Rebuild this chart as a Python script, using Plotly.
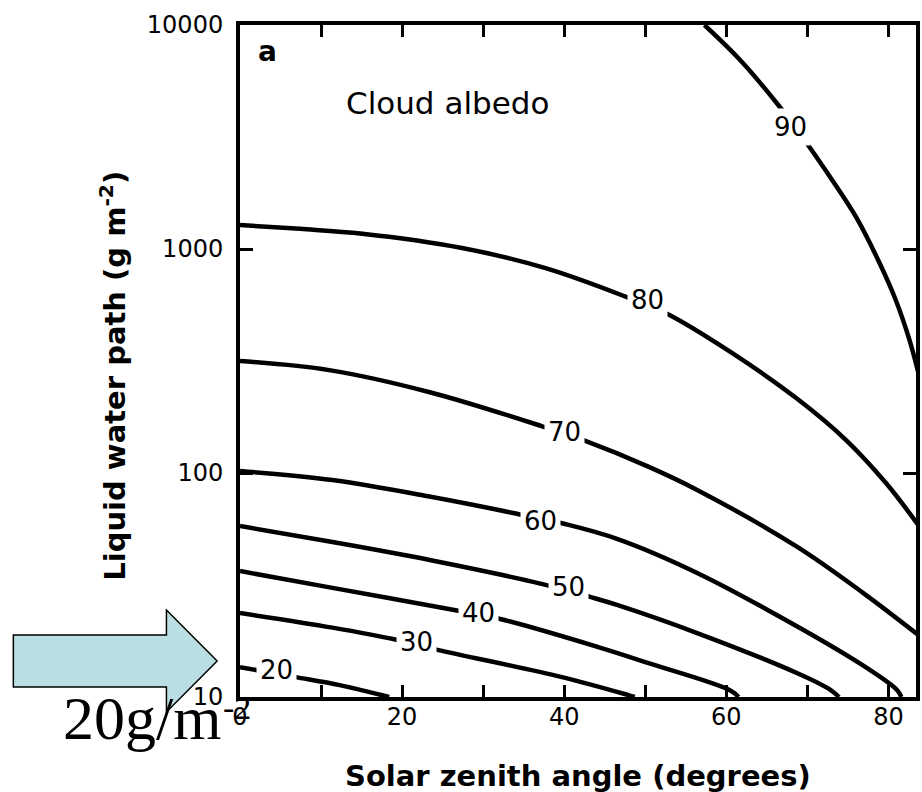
import numpy as np
import plotly.graph_objects as go

# ---- data (solar zenith angle in degrees, LWP in g m-2) ----
sza_20 = [0, 6.7, 12.3, 18.4]
lwp_20 = [13.6, 12.3, 11.3, 10.0]

sza_30 = [0, 11.4, 19.3, 24.5, 39.6, 47.9, 48.7]
lwp_30 = [23.7, 20.4, 18.0, 16.2, 12.3, 10.2, 10.0]

sza_40 = [0, 11.4, 26.6, 32.1, 44.2, 50.3, 60.5, 61.5]
lwp_40 = [36.5, 30.7, 24.4, 22.3, 16.7, 14.2, 10.7, 10.0]

sza_50 = [0, 11.4, 23.7, 37.2, 43.3, 46.6, 56.4, 68.7, 72.8, 73.9]
lwp_50 = [58.0, 49.2, 40.7, 32.0, 27.9, 25.7, 19.3, 12.8, 10.8, 10.0]

sza_60 = [0, 11.4, 23.7, 33.7, 40.1, 46.6, 56.4, 68.7, 76.9, 81.0, 81.6]
lwp_60 = [102, 93, 78.1, 66.3, 59.2, 50.7, 35.8, 20.7, 13.8, 10.8, 10.0]

sza_70 = [0, 11.0, 23.3, 37.2, 42.6, 50.3, 56.4, 68.7, 76.9, 83.7]
lwp_70 = [316, 288, 230, 162, 139, 107, 84, 46.9, 29.1, 18.9]

sza_80 = [0, 7.4, 15.1, 27.4, 37.7, 47.5, 52.8, 60.5, 68.7, 74.8, 79.8, 83.7]
lwp_80 = [1280, 1230, 1170, 1010, 821, 614, 511, 347, 215, 140, 89.3, 58.4]

sza_90 = [57.3, 61.7, 66.6, 69.9, 72.8, 76.0, 78.9, 80.9, 82.6, 83.7]
lwp_90 = [10000, 6980, 4305, 2973, 2096, 1390, 866, 592, 392, 279]

label_text = ["20", "30", "40", "50", "60", "70", "80", "90"]
label_sza = [4.5, 21.8, 29.4, 40.5, 37.1, 40.0, 50.3, 67.9]
label_lwp = [13.2, 17.6, 23.7, 31.0, 61.0, 152, 590, 3505]

x_tickvals = [0, 20, 40, 60, 80]
x_ticktext = ["0", "20", "40", "60", "80"]
y_tickvals = [10, 100, 1000, 10000]
y_ticktext = ["10", "100", "1000", "10000"]

# ---- figure ----
fig = go.Figure()
contours = [(sza_20, lwp_20), (sza_30, lwp_30), (sza_40, lwp_40), (sza_50, lwp_50),
            (sza_60, lwp_60), (sza_70, lwp_70), (sza_80, lwp_80), (sza_90, lwp_90)]
for xs, ys in contours:
    fig.add_trace(go.Scatter(x=xs, y=ys, mode="lines",
                             line=dict(color="black", width=4.5, shape="spline", smoothing=1.0),
                             hoverinfo="skip", showlegend=False))

annotations = []
for t, xv, yv in zip(label_text, label_sza, label_lwp):
    annotations.append(dict(x=xv, y=np.log10(yv), xref="x", yref="y", text=t,
                            showarrow=False, bgcolor="white", borderpad=3,
                            font=dict(family="DejaVu Sans", size=26, color="black")))

L, R, T, B = 240, 2, 25, 95
PW, PH = 922 - L - R, 792 - T - B


def px(xp):
    return (xp - L) / PW


def py(yp):
    return (792 - B - yp) / PH


annotations += [
    dict(x=0.5, y=py(776), xref="paper", yref="paper", showarrow=False,
         text="Solar zenith angle (degrees)", xanchor="center", yanchor="middle",
         font=dict(family="DejaVu Sans", size=29, color="black", weight="bold")),
    dict(x=px(112), y=py(376), xref="paper", yref="paper", showarrow=False,
         text="Liquid water path (g m<sup>-2</sup>)", textangle=-90,
         xanchor="center", yanchor="middle",
         font=dict(family="DejaVu Sans", size=29, color="black", weight="bold")),
    dict(x=px(268), y=py(52), xref="paper", yref="paper", showarrow=False,
         text="a", xanchor="center", yanchor="middle",
         font=dict(family="DejaVu Sans", size=28, color="black", weight="bold")),
    dict(x=px(449), y=py(103), xref="paper", yref="paper", showarrow=False,
         text="Cloud albedo", xanchor="center", yanchor="middle",
         font=dict(family="DejaVu Sans", size=31, color="black")),
    dict(x=px(60), y=py(718), xref="paper", yref="paper", showarrow=False,
         text="20g/m", xanchor="left", yanchor="middle",
         font=dict(family="Liberation Serif", size=62, color="black")),
    dict(x=px(237), y=py(707), xref="paper", yref="paper", showarrow=False,
         text="-2", xanchor="center", yanchor="middle",
         font=dict(family="Liberation Serif", size=34, color="black")),
]

# block arrow pointing at the 20 g m-2 level
arrow_pts = [(12, 635), (166, 635), (166, 610), (217, 661), (166, 712), (166, 687), (12, 687)]
path = "M " + " L ".join(f"{px(a):.5f},{py(b):.5f}" for a, b in arrow_pts) + " Z"
shapes = [dict(type="path", path=path, xref="paper", yref="paper",
               fillcolor="#b9dfe2", line=dict(color="black", width=1.5), layer="above")]

fig.update_layout(
    width=922, height=792,
    margin=dict(l=L, r=R, t=T, b=B, pad=0),
    paper_bgcolor="white", plot_bgcolor="white",
    font=dict(family="DejaVu Sans", color="black"),
    annotations=annotations, shapes=shapes,
    xaxis=dict(range=[0, 83.4], showgrid=False, zeroline=False,
               showline=True, linecolor="black", linewidth=4, mirror="ticks",
               ticks="inside", ticklen=12, tickwidth=2.5, tickcolor="black",
               tickvals=x_tickvals, ticktext=x_ticktext, ticklabelstandoff=-5,
               minor=dict(tick0=0, dtick=10, ticks="inside", ticklen=12, tickwidth=2.5,
                          tickcolor="black", showgrid=False),
               tickfont=dict(family="DejaVu Sans", size=24, color="black")),
    yaxis=dict(type="log", range=[1, 4], showgrid=False, zeroline=False,
               showline=True, linecolor="black", linewidth=4, mirror="ticks",
               ticks="inside", ticklen=13, tickwidth=2.5, tickcolor="black",
               tickvals=y_tickvals, ticktext=y_ticktext, ticklabelstandoff=8,
               tickfont=dict(family="DejaVu Sans", size=24, color="black")),
)

fig.write_html("out.html", config={"displayModeBar": False},
               post_script="document.body.style.margin='0px';document.body.style.padding='0px';")
